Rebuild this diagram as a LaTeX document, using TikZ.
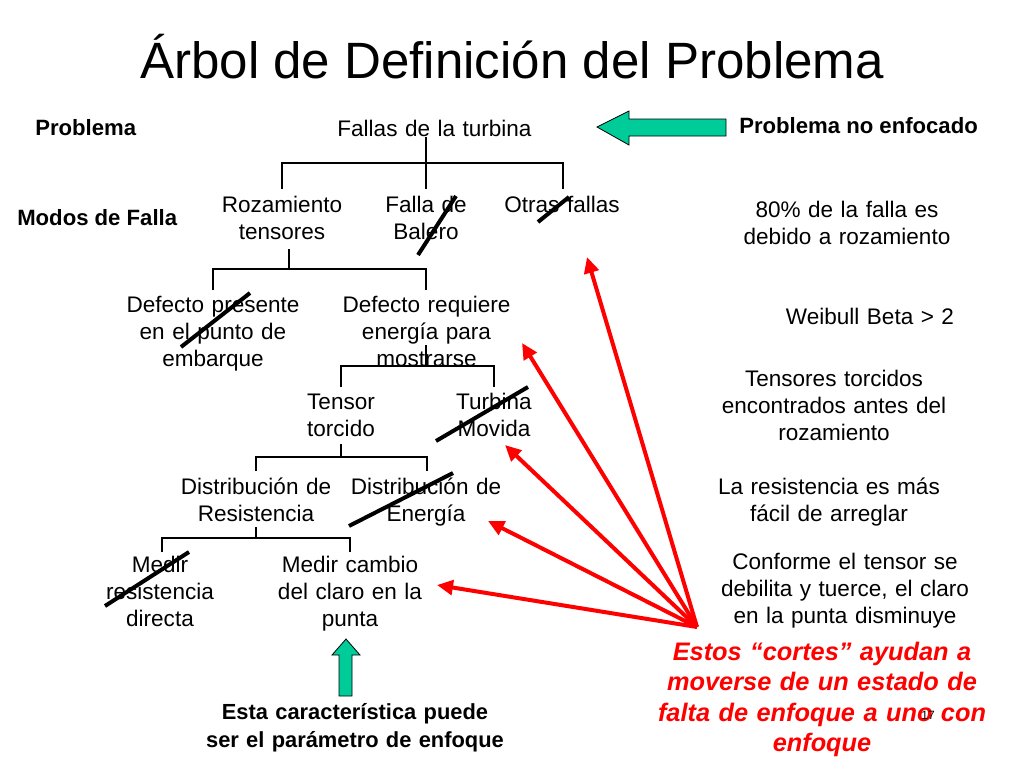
\documentclass[tikz,border=0pt]{standalone}
\usepackage{fontspec}
\setmainfont{Liberation Sans}
\usetikzlibrary{arrows.meta}
\definecolor{arrowgreen}{RGB}{0,204,153}
\begin{document}
\begin{tikzpicture}[x=0.75pt,y=-0.75pt,
  txt/.style={font=\fontsize{16.9}{20.3}\selectfont, align=center, text width=250pt, anchor=base, inner sep=0pt},
  lbl/.style={font=\bfseries\fontsize{16.6}{21}\selectfont, anchor=base west, inner sep=0pt},
  bot/.style={font=\bfseries\fontsize{16.4}{21}\selectfont, align=center, text width=300pt, anchor=base, inner sep=0pt},
  redtxt/.style={font=\bfseries\itshape\fontsize{19}{22.9}\selectfont, text=red, align=center, text width=300pt, anchor=base, inner sep=0pt},
  tree/.style={line width=1.1pt},
  cut/.style={line width=3pt},
  redarrow/.style={draw=red, line width=3pt, -{Triangle[length=12pt,width=11pt]}},
  greenarrow/.style={fill=arrowgreen, draw=black, line width=0.6pt}]
\useasboundingbox (0,0) rectangle (1024,768);
\fill[white] (0,0) rectangle (1024,768);

% title
\node[font=\fontsize{38.3}{44}\selectfont, anchor=base, inner sep=0pt] (title) at (512,78) {Árbol de Definición del Problema};

% left labels
\node[lbl] (lprob) at (35,135) {Problema};
\node[lbl] (lmodos) at (17,225) {Modos de Falla};
\node[lbl] (lnoenf) at (739,133) {Problema no enfocado};

% tree nodes
\node[txt] (root) at (434.5,136) {Fallas de la turbina};
\node[txt] (roz) at (282,212) {Rozamiento\\tensores};
\node[txt] (bal) at (426,212) {Falla de\\Balero};
\node[txt] (otr) at (562,212) {Otras fallas};
\node[txt] (dp) at (213,312) {Defecto presente\\en el punto de\\embarque};
\node[txt] (dr) at (426.5,312) {Defecto requiere\\energía para\\mostrarse};
\node[txt] (ten) at (341,409) {Tensor\\torcido};
\node[txt] (tur) at (494,409) {Turbina\\Movida};
\node[txt] (dres) at (256,494) {Distribución de\\Resistencia};
\node[txt] (dene) at (426,494) {Distribución de\\Energía};
\node[txt] (mres) at (160,572) {Medir\\resistencia\\directa};
\node[txt] (mcam) at (350,572) {Medir cambio\\del claro en la\\punta};

% right texts
\node[txt] (t80) at (847,217) {80\% de la falla es\\debido a rozamiento};
\node[txt] (twb) at (870,324) {Weibull Beta > 2};
\node[txt] (ttc) at (834,386) {Tensores torcidos\\encontrados antes del\\rozamiento};
\node[txt] (tre) at (829,494) {La resistencia es más\\fácil de arreglar};
\node[txt] (tco) at (845,569) {Conforme el tensor se\\debilita y tuerce, el claro\\en la punta disminuye};

% bottom texts
\node[bot] (focus) at (355,719) {Esta característica puede\\ser el parámetro de enfoque};
\node[redtxt] (cortes) at (822,660) {Estos “cortes” ayudan a\\moverse de un estado de\\falta de enfoque a uno con\\enfoque};
\node[font=\fontsize{9}{10}\selectfont, anchor=base, inner sep=0pt] (pnum) at (928,719) {17};

% tree connectors
\coordinate (a0) at (426,137); \coordinate (a1) at (426,163);
\coordinate (a2) at (282,189); \coordinate (a3) at (426,189); \coordinate (a4) at (563,189);
\draw[tree] (a0) -- (a1) -- (a3);
\draw[tree] (a2) -- (a2|-a1) -- (a4|-a1) -- (a4);

\coordinate (b0) at (289,249); \coordinate (b1) at (289,269);
\coordinate (b2) at (213,290); \coordinate (b3) at (426,290);
\draw[tree] (b0) -- (b1);
\draw[tree] (b2) -- (b2|-b1) -- (b3|-b1) -- (b3);

\coordinate (c0) at (426,345); \coordinate (c1) at (426,366);
\coordinate (c2) at (341,387); \coordinate (c3) at (494,387);
\draw[tree] (c0) -- (c1);
\draw[tree] (c2) -- (c2|-c1) -- (c3|-c1) -- (c3);

\coordinate (d0) at (341,444); \coordinate (d1) at (341,457);
\coordinate (d2) at (256,471); \coordinate (d3) at (427,471);
\draw[tree] (d0) -- (d1);
\draw[tree] (d2) -- (d2|-d1) -- (d3|-d1) -- (d3);

\coordinate (e0) at (256,527); \coordinate (e1) at (256,538);
\coordinate (e2) at (162,552); \coordinate (e3) at (350,552);
\draw[tree] (e0) -- (e1);
\draw[tree] (e2) -- (e2|-e1) -- (e3|-e1) -- (e3);

% cuts
\draw[cut] (418,255) -- (456,196);
\draw[cut] (538,222) -- (569,197);
\draw[cut] (181,347) -- (250,293);
\draw[cut] (436,441) -- (528,387);
\draw[cut] (349,526) -- (453,473);
\draw[cut] (105,606) -- (189,552);

% red arrows
\coordinate (src) at (697,627);
\coordinate (p1) at (587,257);
\coordinate (p2) at (522,343);
\coordinate (p3) at (505,445);
\coordinate (p4) at (488,521);
\coordinate (p5) at (437,585);
\foreach \p in {p1,p2,p3,p4,p5} \draw[redarrow] (src) -- (\p);

% green arrows
\draw[greenarrow] (597,127) -- (629,111) -- (629,119) -- (726,119) -- (726,136) -- (629,136) -- (629,145) -- cycle;
\draw[greenarrow] (346,639) -- (360,655) -- (352,655) -- (352,696) -- (339,696) -- (339,655) -- (332,655) -- cycle;
\end{tikzpicture}
\end{document}
